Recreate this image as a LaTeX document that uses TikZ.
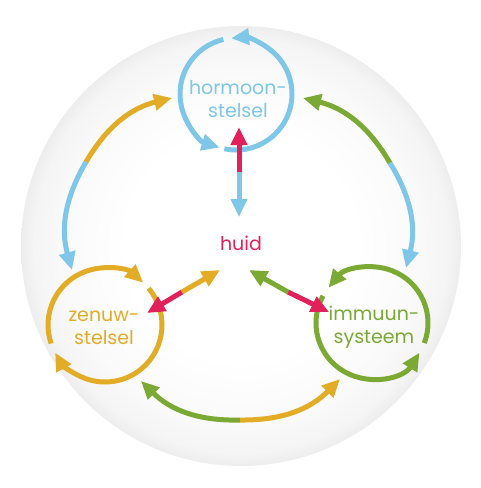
\documentclass[tikz,border=0pt]{standalone}
\usepackage{fontspec}
\setmainfont{Poppins}
\usetikzlibrary{arrows.meta}
\definecolor{hblue}{RGB}{126,199,232}
\definecolor{zgold}{RGB}{227,172,38}
\definecolor{igreen}{RGB}{122,170,52}
\definecolor{hred}{RGB}{226,33,90}
\pgfdeclareradialshading{sphereshade}{\pgfpoint{0bp}{0bp}}{%
  color(0bp)=(white); color(13bp)=(white); color(20bp)=(black!2);
  color(23.5bp)=(black!4); color(25bp)=(black!7); color(50bp)=(black!7)}
\begin{document}
\begin{tikzpicture}[x=1pt,y=1pt,
  ln/.style={line width=5pt},
  tip/.style={-{Triangle[length=18pt,width=16pt]}},
  ring/.style={circle,draw=none,inner sep=0pt,outer sep=0pt,minimum size=#1},
  lbl/.style={font=\fontsize{19}{23}\selectfont,align=center,inner sep=0pt}]
\useasboundingbox (0,0) rectangle (480,-488);
% background sphere
\shade[shading=sphereshade] (241,-246) circle (220);
% system rings
\node[ring=112pt] (H) at (236,-94) {};
\node[ring=114pt] (Z) at (105,-325) {};
\node[ring=112pt] (I) at (372,-323) {};
% labels
\node[lbl,text=hblue] (Ht) at (238,-99) {hormoon-\\stelsel};
\node[lbl,text=zgold] (Zt) at (104,-328) {zenuw-\\stelsel};
\node[lbl,text=igreen] (It) at (374,-327) {immuun-\\systeem};
\node[lbl,text=hred] (huid) at (241,-243) {huid};
% ring arcs
\draw[ln,tip,hblue] (H.258) arc[start angle=258,end angle=455,radius=56];
\draw[ln,tip,hblue] (H.103) arc[start angle=103,end angle=253,radius=56];
\draw[ln,tip,zgold] (Z.199) arc[start angle=199,end angle=48,radius=57];
\draw[ln,tip,zgold] (Z.40) arc[start angle=40,end angle=-151,radius=57];
\draw[ln,tip,igreen] (I.-21) arc[start angle=-21,end angle=141,radius=56];
\draw[ln,tip,igreen] (I.151) arc[start angle=151,end angle=328,radius=56];
% coordinates for connectors
\coordinate (hA) at (239,-127);
\coordinate (hB) at (239,-217);
\coordinate (hM) at (239,-172);
\coordinate (zA) at (147,-313);
\coordinate (zB) at (220,-270);
\coordinate (zM) at (182,-292);
\coordinate (iA) at (329,-312);
\coordinate (iB) at (249,-270);
\coordinate (iM) at (288,-292);
\coordinate (lA) at (172,-98);
\coordinate (lB) at (72,-270);
\coordinate (lM) at (86,-162);
\coordinate (rA) at (303,-98);
\coordinate (rB) at (406,-268);
\coordinate (rM) at (390,-163);
\coordinate (bA) at (141,-381);
\coordinate (bB) at (340,-379);
\coordinate (bM) at (240,-420);
% huid connectors
\draw[ln,tip,hred] (hM) -- (hA);
\draw[ln,tip,hblue] (hM) -- (hB);
\draw[ln,tip,hred] (zM) -- (zA);
\draw[ln,tip,zgold] (zM) -- (zB);
\draw[ln,tip,hred] (iM) -- (iA);
\draw[ln,tip,igreen] (iM) -- (iB);
% outer arcs
\draw[ln,tip,zgold] (lM) to[bend left=23] (lA);
\draw[ln,tip,hblue] (lM) to[bend right=23] (lB);
\draw[ln,tip,igreen] (rM) to[bend right=23] (rA);
\draw[ln,tip,hblue] (rM) to[bend left=23] (rB);
\draw[ln,tip,igreen] (bM) to[bend left=23] (bA);
\draw[ln,tip,zgold] (bM) to[bend right=23] (bB);
\end{tikzpicture}
\end{document}
